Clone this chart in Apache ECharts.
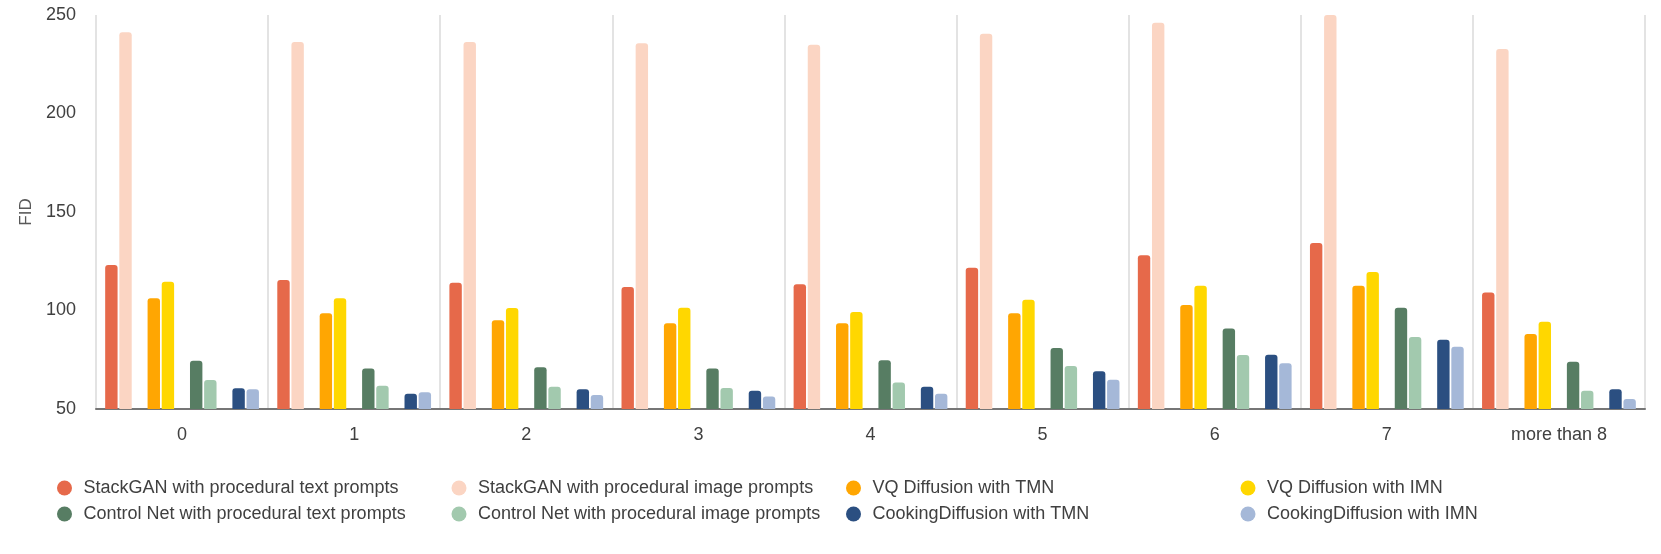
<!DOCTYPE html>
<html>
<head>
<meta charset="utf-8">
<style>
  html, body { margin: 0; padding: 0; background: #fff; }
  #main { width: 1661px; height: 554px; }
</style>
<script src="https://cdn.jsdelivr.net/npm/echarts@6/dist/echarts.min.js"></script>
</head>
<body>
<div id="main"></div>
<script>
// 横轴分类：步骤数
var categories = ['0', '1', '2', '3', '4', '5', '6', '7', 'more than 8'];

// 各方法的 FID 数值
var stackganText  = [123.1, 115.5, 114.1, 111.9, 113.3, 121.7, 128.0, 134.3, 109.1];
var stackganImage = [241.2, 236.3, 236.3, 235.6, 234.9, 240.5, 246.1, 250.0, 232.7];
var vqTmn         = [106.2, 98.6, 95.0, 93.5, 93.5, 98.6, 102.8, 112.6, 88.1];
var vqImn         = [114.6, 106.2, 101.3, 101.4, 99.2, 105.5, 112.6, 119.5, 94.3];
var controlText   = [74.5, 70.5, 71.2, 70.5, 74.7, 81.0, 90.8, 101.4, 74.0];
var controlImage  = [64.7, 61.8, 61.3, 60.7, 63.4, 71.8, 77.4, 86.5, 59.3];
var cookingTmn    = [60.5, 57.8, 60.0, 59.3, 61.3, 69.1, 77.6, 85.2, 60.0];
var cookingImn    = [60.0, 58.5, 57.1, 56.3, 57.8, 64.9, 73.2, 81.6, 55.1];

var yTicks = { min: 50, max: 250, interval: 50 };

var seriesNames = [
    'StackGAN with procedural text prompts',
    'StackGAN with procedural image prompts',
    'VQ Diffusion with TMN',
    'VQ Diffusion with IMN',
    'Control Net with procedural text prompts',
    'Control Net with procedural image prompts',
    'CookingDiffusion with TMN',
    'CookingDiffusion with IMN'
];
var seriesData = [stackganText, stackganImage, vqTmn, vqImn, controlText, controlImage, cookingTmn, cookingImn];
var seriesColors = ['#E6694A', '#FBD5C3', '#FFA602', '#FFD700', '#577D63', '#A2C9AE', '#2B4F81', '#A5B8D8'];

var fontFamily = "'Liberation Sans', Arial, sans-serif";

function makeBar(name, data, color) {
    return {
        name: name,
        type: 'bar',
        data: data,
        barWidth: 12.4,
        barGap: '14%',
        itemStyle: {
            color: color,
            borderRadius: [3, 3, 0, 0]
        }
    };
}

// 每两组之间插入一个空系列，形成成对的柱子间隔
var series = [];
for (var i = 0; i < seriesNames.length; i++) {
    series.push(makeBar(seriesNames[i], seriesData[i], seriesColors[i]));
    if (i % 2 === 1 && i < seriesNames.length - 1) {
        series.push(makeBar('', [], 'transparent'));
    }
}

var myChart = echarts.init(document.getElementById('main'), null, { renderer: 'canvas' });

var option = {
    animation: false,
    textStyle: { fontFamily: fontFamily },
    grid: {
        left: 96,
        right: 16,
        top: 15,
        bottom: 145
    },
    legend: {
        data: seriesNames,
        left: 52,
        top: 474,
        width: 1600,
        icon: 'circle',
        itemWidth: 28,
        itemHeight: 15,
        itemGap: 8,
        textStyle: {
            fontSize: 18,
            color: '#404040',
            width: 360,
            lineHeight: 18,
            fontFamily: fontFamily
        }
    },
    xAxis: {
        type: 'category',
        data: categories,
        axisLine: { show: true, lineStyle: { color: '#767676', width: 2 } },
        axisTick: { show: false },
        axisLabel: { fontSize: 18, color: '#404040', margin: 17 },
        splitLine: { show: true, interval: 0, lineStyle: { color: '#E3E3E3', width: 2 } }
    },
    yAxis: {
        type: 'value',
        min: yTicks.min,
        max: yTicks.max,
        interval: yTicks.interval,
        name: 'FID',
        nameLocation: 'middle',
        nameGap: 58,
        nameTextStyle: { fontSize: 17, color: '#595959' },
        axisLine: { show: false },
        axisTick: { show: false },
        axisLabel: { fontSize: 18, color: '#404040', margin: 20 },
        splitLine: { show: false }
    },
    series: series
};

myChart.setOption(option);
</script>
</body>
</html>
